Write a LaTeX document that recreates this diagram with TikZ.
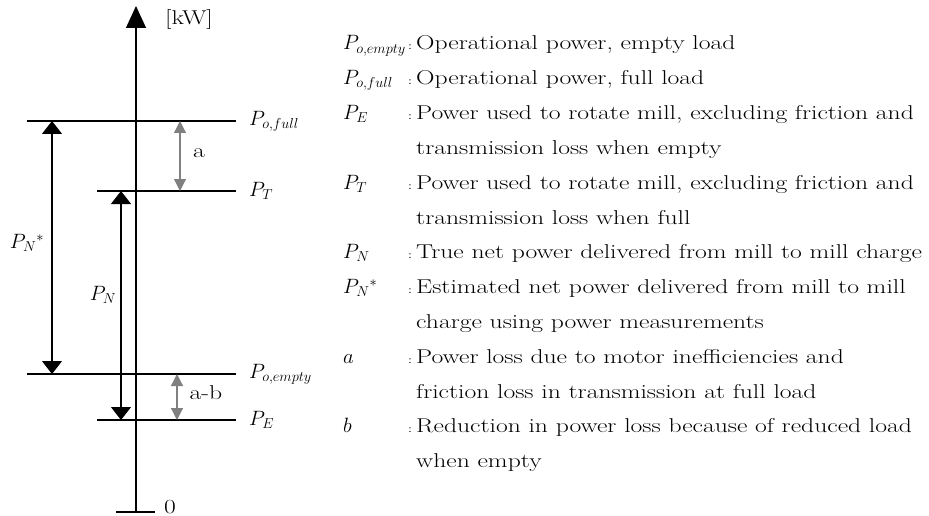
\documentclass[tikz,border=0pt]{standalone}
\usepackage{fontspec}
\setmainfont{Latin Modern Roman}[FakeStretch=1.28]
\usetikzlibrary{arrows.meta}
\begin{document}
\begin{tikzpicture}[x=1pt, y=-1pt,
    level/.style={line width=1.2pt},
    bigarrow/.style={line width=1.2pt, {Triangle[width=20pt,length=13pt]}-{Triangle[width=20pt,length=13pt]}},
    grayarrow/.style={line width=1.2pt, draw=gray, {Triangle[width=12pt,length=12pt]}-{Triangle[width=12pt,length=12pt]}},
    lbl/.style={font=\fontsize{20}{22}\selectfont, inner sep=0pt},
    sym/.style={lbl, anchor=base west},
    desc/.style={lbl, anchor=base west},
    colon/.style={font=\fontsize{11}{12}\selectfont, anchor=base, inner sep=0pt},
]
\useasboundingbox (0,0) rectangle (929,516);

% axis
\coordinate (zero) at (136,512);
\coordinate (top) at (136,6);
\draw[line width=1.2pt, -{Triangle[width=20pt,length=22pt]}] (zero) -- (top);
\draw[level] (116,512) -- (155,512);
\node[lbl, anchor=west] (unit) at (165,20) {[kW]};
\node[lbl, anchor=west] (origin) at (164,507) {0};

% power levels
\coordinate (fullL) at (27,121);  \coordinate (fullR) at (236,121);
\coordinate (tL) at (97,191);     \coordinate (tR) at (236,191);
\coordinate (emptyL) at (27,374); \coordinate (emptyR) at (236,374);
\coordinate (eL) at (97,420);     \coordinate (eR) at (236,420);
\draw[level] (fullL) -- (fullR);
\draw[level] (tL) -- (tR);
\draw[level] (emptyL) -- (emptyR);
\draw[level] (eL) -- (eR);
\node[lbl, anchor=west] (pfull) at (249,121) {$P_{o,full}$};
\node[lbl, anchor=west] (pt) at (249,191) {$P_T$};
\node[lbl, anchor=west] (pempty) at (249,374) {$P_{o,empty}$};
\node[lbl, anchor=west] (pe) at (249,420) {$P_E$};

% net power arrows
\coordinate (nsA) at (52,121);  \coordinate (nsB) at (52,374);
\coordinate (nA) at (121,191);  \coordinate (nB) at (121,420);
\draw[bigarrow] (nsA) -- (nsB);
\draw[bigarrow] (nA) -- (nB);
\node[lbl] (pns) at (27,243) {$P_N{}^*$};
\node[lbl] (pn) at (103,295) {$P_N$};

% loss arrows
\coordinate (aA) at (180,121);  \coordinate (aB) at (180,191);
\coordinate (abA) at (177,374); \coordinate (abB) at (177,420);
\draw[grayarrow] (aA) -- (aB);
\draw[grayarrow] (abA) -- (abB);
\node[lbl] (la) at (199,153) {a};
\node[lbl] (lab) at (206,393) {a-b};

% legend
\node[sym] (s1) at (343,50) {$P_{o,empty}$};
\node[sym] (s2) at (343,84.8) {$P_{o,full}$};
\node[sym] (s3) at (343,119.6) {$P_E$};
\node[sym] (s4) at (343,189.2) {$P_T$};
\node[sym] (s5) at (343,258.8) {$P_N$};
\node[sym] (s6) at (343,293.6) {$P_N{}^*$};
\node[sym] (s7) at (343,363.2) {$a$};
\node[sym] (s8) at (343,432.8) {$b$};
\foreach \y in {50,84.8,119.6,189.2,258.8,293.6,363.2,432.8}
  \node[colon] at (410,\y) {:};

\node[desc] (d1) at (416,50) {Operational power, empty load};
\node[desc] (d2) at (416,84.8) {Operational power, full load};
\node[desc] (d3) at (416,119.6) {Power used to rotate mill, excluding friction and};
\node[desc] (d3b) at (416,154.4) {transmission loss when empty};
\node[desc] (d4) at (416,189.2) {Power used to rotate mill, excluding friction and};
\node[desc] (d4b) at (416,224) {transmission loss when full};
\node[desc] (d5) at (416,258.8) {True net power delivered from mill to mill charge};
\node[desc] (d6) at (416,293.6) {Estimated net power delivered from mill to mill};
\node[desc] (d6b) at (416,328.4) {charge using power measurements};
\node[desc] (d7) at (416,363.2) {Power loss due to motor inefficiencies and};
\node[desc] (d7b) at (416,398) {friction loss in transmission at full load};
\node[desc] (d8) at (416,432.8) {Reduction in power loss because of reduced load};
\node[desc] (d8b) at (416,467.6) {when empty};
\end{tikzpicture}
\end{document}
